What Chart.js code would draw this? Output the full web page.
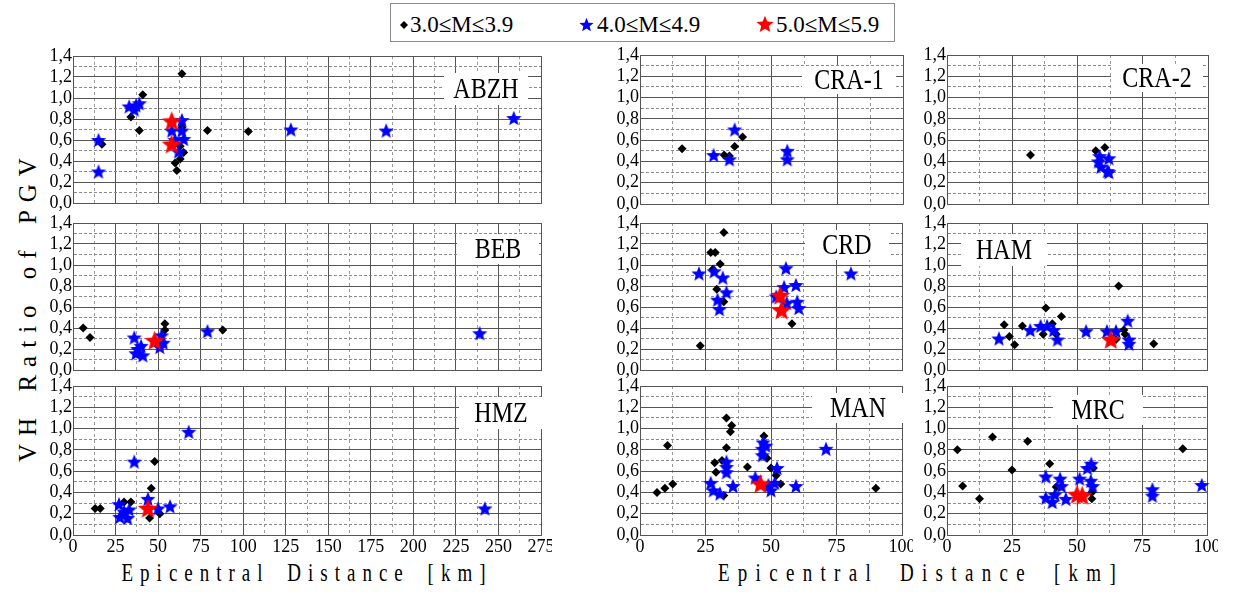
<!DOCTYPE html>
<html>
<head>
<meta charset="utf-8">
<script src="https://cdn.jsdelivr.net/npm/chart.js@4/dist/chart.umd.min.js"></script>
<style>
  body { margin: 0; width: 1234px; height: 592px; position: relative; overflow: hidden; background: #fff; font-family: 'Liberation Serif', 'Times New Roman', Tinos, 'DejaVu Serif', serif; }
  canvas { position: absolute; }
  .legend { position: absolute; left: 390px; top: 3px; width: 505px; height: 39px; border: 1px solid #8c8c8c; box-sizing: border-box; }
  .ltxt { position: absolute; top: 13px; font-size: 23px; line-height: 23px; white-space: nowrap; }
  .title { position: absolute; white-space: nowrap; color: #000; }
</style>
</head>
<body>
<div class="legend"></div>
<span class="ltxt" style="left:410px">3.0≤M≤3.9</span>
<span class="ltxt" style="left:597px">4.0≤M≤4.9</span>
<span class="ltxt" style="left:776px">5.0≤M≤5.9</span>
<div class="title" id="ytitle" style="left:28px;top:306px;font-size:25px;letter-spacing:8px;word-spacing:4px;transform:translate(-50%,-50%) rotate(-90deg)">VH Ratio of PGV</div>
<div class="title" style="left:307px;top:573px;font-size:19px;letter-spacing:7px;word-spacing:6px;transform:translate(-50%,-50%) scaleY(1.35)">Epicentral Distance [km]</div>
<div class="title" style="left:921px;top:573px;font-size:19px;letter-spacing:8.3px;word-spacing:8px;transform:translate(-50%,-50%) scaleY(1.35)">Epicentral Distance [km]</div>
<script>
// [distance km, VH ratio] per station and magnitude class
const abzhM3 = [[64,1.23],[41,1.03],[34,0.82],[39,0.69],[17,0.56],[79,0.69],[103,0.68],[60,0.38],[61,0.31],[63,0.42],[65,0.48],[63,0.54],[64,0.72]];
const abzhM4 = [[15,0.60],[15,0.30],[33,0.92],[37,0.93],[39,0.95],[36,0.89],[58,0.69],[64,0.79],[64,0.69],[65,0.61],[62,0.49],[60,0.60],[128,0.70],[184,0.69],[259,0.81]];
const abzhM5 = [[58,0.78],[58,0.56]];

const cra1M3 = [[16,0.52],[32,0.46],[36,0.54],[39,0.63],[34,0.45]];
const cra1M4 = [[28,0.46],[34,0.42],[36,0.70],[56,0.50],[56,0.42]];
const cra1M5 = [];

const cra2M3 = [[32,0.46],[57,0.50],[60.5,0.53]];
const cra2M4 = [[58,0.40],[62,0.43],[59,0.35],[61.5,0.31],[58.5,0.45],[62,0.30]];
const cra2M5 = [];

const bebM3 = [[6,0.40],[10,0.31],[54,0.44],[54,0.38],[88,0.38]];
const bebM4 = [[36,0.31],[37,0.16],[41,0.14],[40,0.23],[38,0.20],[51,0.22],[53,0.26],[52,0.33],[79,0.37],[239,0.35]];
const bebM5 = [[48,0.28]];

const crdM3 = [[32,1.31],[27,1.12],[28.7,1.12],[30.6,1.01],[27.8,0.96],[29.3,0.77],[32,0.65],[23,0.23],[58,0.44]];
const crdM4 = [[22.5,0.92],[28.3,0.94],[31.6,0.88],[33,0.74],[29.6,0.67],[30.3,0.58],[55.7,0.97],[55,0.79],[59.5,0.81],[52,0.70],[60,0.65],[60.6,0.59],[80.5,0.92],[56,0.64]];
const crdM5 = [[53.5,0.71],[54,0.57]];

const hamM3 = [[22,0.43],[24,0.32],[26,0.24],[29,0.42],[37,0.34],[38,0.59],[40.5,0.44],[42,0.34],[44,0.51],[66,0.80],[68,0.38],[68.5,0.34],[79.5,0.25],[65,0.29]];
const hamM4 = [[20,0.30],[32,0.38],[36,0.42],[38.5,0.42],[41,0.38],[42.5,0.29],[53.5,0.37],[61.5,0.37],[65,0.37],[69.5,0.47],[70,0.29],[70,0.25]];
const hamM5 = [[63,0.29]];

const hmzM3 = [[13,0.25],[16,0.25],[30,0.31],[34,0.31],[46,0.44],[48,0.69],[45,0.16],[51,0.20]];
const hmzM4 = [[36,0.69],[68,0.97],[27,0.29],[27.5,0.17],[30,0.22],[32,0.16],[33,0.24],[44,0.34],[50,0.25],[57,0.27],[242,0.25]];
const hmzM5 = [[44,0.25]];

const manM3 = [[6.5,0.40],[9.5,0.44],[12.5,0.48],[10.5,0.84],[28.5,0.68],[29,0.59],[32,0.37],[31.3,0.70],[33,1.10],[35,1.03],[34.5,0.97],[33,0.82],[41,0.64],[47.3,0.93],[48.5,0.72],[50,0.63],[52,0.56],[53.7,0.48],[90,0.44]];
const manM4 = [[27,0.49],[28,0.42],[30.5,0.39],[33,0.69],[33,0.59],[33,0.64],[35.5,0.46],[44,0.54],[47,0.87],[46.7,0.81],[46.7,0.75],[48,0.84],[52.3,0.63],[50,0.42],[51.4,0.49],[49,0.47],[59.5,0.46],[71,0.81]];
const manM5 = [[46,0.48]];

const mrcM3 = [[4,0.80],[6,0.46],[12.5,0.34],[17.5,0.92],[25,0.61],[31,0.88],[39.5,0.67],[42,0.45],[56.3,0.63],[55.7,0.34],[55.7,0.40],[90.7,0.81]];
const mrcM4 = [[38,0.55],[38,0.35],[40.5,0.31],[41.5,0.38],[43.5,0.53],[44,0.46],[45.7,0.34],[51,0.53],[54,0.63],[55.5,0.67],[55.3,0.51],[56,0.46],[79,0.43],[79,0.37],[98,0.47]];
const mrcM5 = [[50,0.38],[52,0.37]];

const classLabels = ['3.0≤M≤3.9', '4.0≤M≤4.9', '5.0≤M≤5.9'];
const xMaxByCol = [275, 100, 100];
const yMax = 1.4;

// plot rectangles (left, right) per column and (top, bottom) per row
const cols = [[73, 542], [640, 903], [947, 1208]];
const rows = [[55, 204], [222, 371], [385, 535]];

const panels = [
  { name: 'ABZH',  col: 0, row: 0, data: [abzhM3, abzhM4, abzhM5], box: [413, 33, 84, 32] },
  { name: 'CRA-1', col: 1, row: 0, data: [cra1M3, cra1M4, cra1M5], box: [209, 25, 94, 28] },
  { name: 'CRA-2', col: 2, row: 0, data: [cra2M3, cra2M4, cra2M5], box: [210, 23, 92, 28] },
  { name: 'BEB',   col: 0, row: 1, data: [bebM3, bebM4, bebM5],    box: [425, 26, 82, 30] },
  { name: 'CRD',   col: 1, row: 1, data: [crdM3, crdM4, crdM5],    box: [207, 22, 84, 30] },
  { name: 'HAM',   col: 2, row: 1, data: [hamM3, hamM4, hamM5],    box: [57, 27, 86, 32] },
  { name: 'HMZ',   col: 0, row: 2, data: [hmzM3, hmzM4, hmzM5],    box: [428, 27, 84, 32] },
  { name: 'MAN',   col: 1, row: 2, data: [manM3, manM4, manM5],    box: [218, 22, 92, 30] },
  { name: 'MRC',   col: 2, row: 2, data: [mrcM3, mrcM4, mrcM5],    box: [151, 24, 90, 30] }
];

const serif = '"Liberation Serif", "Times New Roman", Tinos, "DejaVu Serif", serif';

function starImage(r, color) {
  const c = document.createElement('canvas');
  const s = Math.ceil(r * 2 + 2);
  c.width = s; c.height = s;
  const g = c.getContext('2d');
  g.fillStyle = color;
  g.beginPath();
  for (let i = 0; i < 10; i++) {
    const rad = i % 2 ? r * 0.44 : r;
    const a = -Math.PI / 2 + i * Math.PI / 5;
    const x = s / 2 + rad * Math.cos(a), y = s / 2 + 0.8 + rad * Math.sin(a);
    i ? g.lineTo(x, y) : g.moveTo(x, y);
  }
  g.closePath();
  g.fill();
  return c;
}

const blueStar = starImage(8, '#0000ff');
const redStar = starImage(10.5, '#ff0000');

// legend symbols
function legendSymbol(img, cx, cy) {
  img.style.left = (cx - img.width / 2) + 'px';
  img.style.top = (cy - img.height / 2) + 'px';
  document.body.appendChild(img);
}
const dia = document.createElement('canvas');
dia.width = 10; dia.height = 10;
const dg = dia.getContext('2d');
dg.fillStyle = '#000';
dg.beginPath(); dg.moveTo(5, 1); dg.lineTo(9, 5); dg.lineTo(5, 9); dg.lineTo(1, 5); dg.closePath(); dg.fill();
legendSymbol(dia, 404, 25);
legendSymbol(starImage(7.5, '#0000ff'), 586, 24);
legendSymbol(starImage(9, '#ff0000'), 765, 24);

const near = (v, step) => Math.abs(v / step - Math.round(v / step)) < 1e-6;

const stationLabel = {
  id: 'stationLabel',
  beforeDatasetsDraw(chart, args, opts) {
    const { ctx, chartArea: a } = chart;
    const [cx, cy, w, h] = opts.box;
    ctx.save();
    ctx.fillStyle = '#fff';
    ctx.fillRect(a.left + cx - w / 2, a.top + cy - h / 2, w, h);
    ctx.translate(a.left + cx, a.top + cy);
    ctx.scale(1, 1.25);
    ctx.fillStyle = '#000';
    ctx.font = '24px ' + serif;
    ctx.textAlign = 'center';
    ctx.textBaseline = 'middle';
    ctx.fillText(opts.text, 0, 1);
    ctx.restore();
  }
};

Chart.defaults.font.family = serif;
Chart.defaults.color = '#000';

panels.forEach(p => {
  const [L, R] = cols[p.col];
  const [T, B] = rows[p.row];
  const bottomRow = p.row === 2;
  const xAxisH = bottomRow ? 24 : 0;
  const canvas = document.createElement('canvas');
  canvas.width = (R - L) + 45 + 10;
  canvas.height = (B - T) + 10 + (bottomRow ? xAxisH : 10);
  canvas.style.left = (L - 45) + 'px';
  canvas.style.top = (T - 10) + 'px';
  document.body.appendChild(canvas);

  const toXY = arr => arr.map(d => ({ x: d[0], y: d[1] }));

  new Chart(canvas, {
    type: 'scatter',
    data: {
      datasets: [
        { label: classLabels[0], data: toXY(p.data[0]), pointStyle: 'rectRot', pointRadius: 4.5,
          backgroundColor: '#000', borderColor: '#000', borderWidth: 0, order: 3, clip: false },
        { label: classLabels[1], data: toXY(p.data[1]), pointStyle: blueStar, pointRadius: 8,
          backgroundColor: '#00f', borderColor: '#00f', order: 2, clip: false },
        { label: classLabels[2], data: toXY(p.data[2]), pointStyle: redStar, pointRadius: 10,
          backgroundColor: '#f00', borderColor: '#f00', order: 1, clip: false }
      ]
    },
    options: {
      responsive: false,
      animation: false,
      devicePixelRatio: 1,
      events: [],
      layout: { padding: { top: 10, right: 10, left: 0, bottom: bottomRow ? 0 : 10 } },
      plugins: {
        legend: { display: false },
        tooltip: { enabled: false },
        stationLabel: { text: p.name, box: p.box }
      },
      scales: {
        x: {
          type: 'linear', min: 0, max: xMaxByCol[p.col],
          afterFit: s => { s.height = xAxisH; s.paddingLeft = 0; s.paddingRight = 0; },
          ticks: {
            display: bottomRow, stepSize: 12.5, autoSkip: false, maxRotation: 0, padding: 1,
            font: { size: 18 },
            callback: v => near(v, 25) ? String(v) : ''
          },
          grid: { drawTicks: false, lineWidth: 1, color: c => (c.tick && !near(c.tick.value, 25)) ? '#9a9a9a' : '#555' },
          border: { display: true, color: '#555', width: 1, dash: c => (c.tick && !near(c.tick.value, 25)) ? [3, 3] : [] }
        },
        y: {
          type: 'linear', min: 0, max: yMax,
          afterFit: s => { s.width = 45; s.paddingTop = 0; s.paddingBottom = 0; },
          ticks: {
            stepSize: 0.1, autoSkip: false, padding: 1, font: { size: 18 },
            callback: v => near(v, 0.2) ? v.toFixed(1).replace('.', ',') : ''
          },
          grid: { drawTicks: false, lineWidth: 1, color: c => (c.tick && !near(c.tick.value, 0.2)) ? '#8a8a8a' : '#555' },
          border: { display: true, color: '#555', width: 1, dash: c => (c.tick && !near(c.tick.value, 0.2)) ? [3, 2] : [] }
        }
      }
    },
    plugins: [stationLabel]
  });
});
</script>
</body>
</html>
